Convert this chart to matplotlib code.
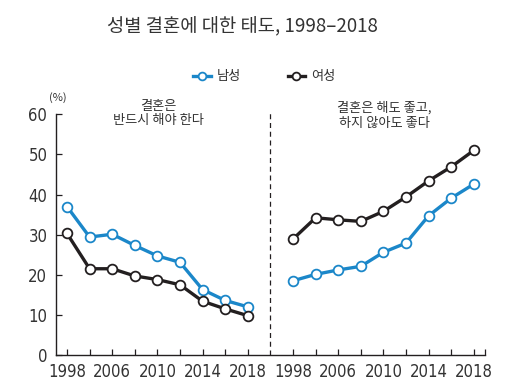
import matplotlib
matplotlib.use("Agg")
import matplotlib.pyplot as plt
from matplotlib import font_manager

years = ["1998", "2002", "2006", "2008", "2010", "2012", "2014", "2016", "2018"]
tick_labels = ["1998", "", "2006", "", "2010", "", "2014", "", "2018"]
must_male = [37.0, 29.4, 30.1, 27.3, 24.7, 23.1, 16.3, 13.6, 12.0]
must_female = [30.3, 21.5, 21.5, 19.7, 18.8, 17.5, 13.4, 11.5, 9.8]
either_male = [18.5, 20.1, 21.2, 22.1, 25.6, 27.9, 34.7, 39.1, 42.6]
either_female = [28.9, 34.2, 33.7, 33.3, 35.8, 39.4, 43.4, 46.9, 51.0]

cands = [f for f in font_manager.fontManager.ttflist
         if ("Condensed" in f.name or "Narrow" in f.name or
             (str(f.stretch) in ("condensed", "semi-condensed", "600", "500", "700") and "DejaVu Sans" in f.name))
         and f.style == "normal"]
num_prop = None
if cands:
    pick = sorted(cands, key=lambda f: (0 if "Sans" in f.name else 1, str(f.weight) != "400" and f.weight != 400))[0]
    num_prop = font_manager.FontProperties(fname=pick.fname)
kr = ["Noto Sans CJK KR", "DejaVu Sans"]

BLUE = "#1b87c9"
BLACK = "#231f20"
TXT = "#333333"

fig = plt.figure(figsize=(5.29, 3.89), dpi=100)
ax = fig.add_axes([0.1053, 0.0874, 0.8117, 0.6188])

n = len(years)
xl = list(range(n))
xr = [i + 10 for i in range(n)]

style = dict(lw=2.4, marker="o", ms=7, mfc="white", mew=1.3, clip_on=False, zorder=3)
ax.plot(xl, must_male, color=BLUE, label="남성", **style)
ax.plot(xl, must_female, color=BLACK, label="여성", **style)
ax.plot(xr, either_male, color=BLUE, **style)
ax.plot(xr, either_female, color=BLACK, **style)

ax.plot([9, 9], [0, 60.6], color=BLACK, lw=0.9, ls=(0, (4, 3)), clip_on=False)

ax.set_xlim(-0.5, 18.5)
ax.set_ylim(0, 60)
ax.set_yticks(range(0, 61, 10))
ax.set_xticks(xl + xr + [18.5])
ax.set_xticklabels(tick_labels + tick_labels + [""])
for s in ["top", "right"]:
    ax.spines[s].set_visible(False)
for s in ["left", "bottom"]:
    ax.spines[s].set_color(BLACK)
    ax.spines[s].set_linewidth(1.0)
ax.tick_params(axis="both", direction="in", length=4, width=0.9, color=BLACK,
               labelcolor=TXT)
ax.tick_params(axis="x", pad=6)
ax.tick_params(axis="y", pad=6)
for lab in ax.get_xticklabels() + ax.get_yticklabels():
    if num_prop is not None:
        lab.set_fontproperties(num_prop)
        lab.set_fontsize(12)
    else:
        lab.set_fontfamily("DejaVu Sans")
        lab.set_fontsize(10)

fig.text(0.458, 0.932, "성별 결혼에 대한 태도, 1998–2018", ha="center", va="center",
         fontsize=13.5, color=TXT, family=kr)
fig.text(0.11, 0.75, "(%)", ha="center", va="center", fontsize=8, color=TXT, family=kr)
fig.text(0.299, 0.708, "결혼은\n반드시 해야 한다", ha="center", va="center",
         fontsize=9.5, color=TXT, family=kr, linespacing=1.15)
fig.text(0.727, 0.703, "결혼은 해도 좋고,\n하지 않아도 좋다", ha="center", va="center",
         fontsize=9.5, color=TXT, family=kr, linespacing=1.15)

leg = fig.legend(loc="center", bbox_to_anchor=(0.5, 0.803), ncol=2, frameon=False,
                 prop={"family": kr, "size": 9.5}, handlelength=1.3, columnspacing=3.5,
                 handletextpad=0.5, markerscale=0.8)
for t in leg.get_texts():
    t.set_color(TXT)

fig.savefig("out.png", dpi=100)
